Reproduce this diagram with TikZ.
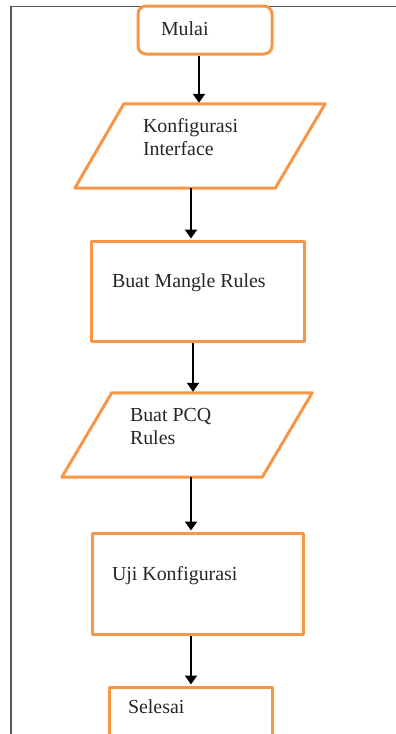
\documentclass[tikz,border=0pt]{standalone}
\usepackage{fontspec}
\setmainfont{Liberation Serif}
\usetikzlibrary{arrows.meta}
\definecolor{flowOrange}{HTML}{F79646}
\definecolor{frameGray}{HTML}{555555}
% top-aligned, left-flushed text block of a given width
\newcommand\boxtext[2]{\parbox[t]{#1}{\raggedright #2}}

\begin{document}
\begin{tikzpicture}[x=1pt,y=-1pt,
  flowtext/.style={inner ysep=0pt, font=\fontsize{19.9}{23}\selectfont, text=black!85},
  procbox/.style={flowtext, rectangle, draw=flowOrange, line width=3pt, line join=round},
  termbox/.style={procbox, rounded corners=8pt},
  iobox/.style={flowtext, rectangle, draw=none},
  ioline/.style={draw=flowOrange, line width=3pt, line join=round},
  flowarrow/.style={draw=black, line width=2pt, shorten >=1pt, -{Triangle[length=9pt,width=12pt]}},
  frameline/.style={draw=frameGray, line width=1.5pt}
]
\useasboundingbox (0,0) rectangle (396,734);

% page frame
\draw[frameline] (397,6.5) -- (11,6.5) -- (11,735);

% start
\node[termbox, inner xsep=23pt, text height=29pt, text depth=19pt] (m) at (205,30)
  {\boxtext{88pt}{Mulai}};

% input: interface configuration
\node[iobox, inner xsep=68pt, text height=28pt, text depth=56pt] (p1) at (200,146)
  {\boxtext{114pt}{Konfigurasi\\Interface}};
\draw[ioline] ([xshift=49pt]p1.north west) -- (p1.north east)
  -- ([xshift=-50pt]p1.south east) -- (p1.south west) -- cycle;

% process: mangle rules
\node[procbox, inner xsep=21pt, text height=46pt, text depth=54pt] (b1) at (197.5,291)
  {\boxtext{171pt}{Buat Mangle Rules}};

% input: PCQ rules
\node[iobox, inner xsep=68pt, text height=28pt, text depth=56pt] (p2) at (187,435)
  {\boxtext{114pt}{Buat PCQ\\Rules}};
\draw[ioline] ([xshift=50pt]p2.north west) -- (p2.north east)
  -- ([xshift=-50pt]p2.south east) -- (p2.south west) -- cycle;

% process: test
\node[procbox, inner xsep=20pt, text height=47pt, text depth=54pt] (b2) at (197.5,583.5)
  {\boxtext{171pt}{Uji Konfigurasi}};

% end
\node[procbox, inner xsep=19pt, text height=26pt, text depth=24pt] (s) at (190.5,712)
  {\boxtext{125pt}{Selesai}};

% connectors
\draw[flowarrow] (m.south) ++(-6,0) coordinate (a1) -- (a1 |- p1.north);
\draw[flowarrow] (p1.south) ++(-9,0) coordinate (a2) -- (a2 |- b1.north);
\draw[flowarrow] (b1.south) ++(-4.5,0) coordinate (a3) -- (a3 |- p2.north);
\draw[flowarrow] (p2.south) ++(4,0) coordinate (a4) -- (a4 |- b2.north);
\draw[flowarrow] (b2.south) ++(-6.5,0) coordinate (a5) -- (a5 |- s.north);
\end{tikzpicture}
\end{document}
